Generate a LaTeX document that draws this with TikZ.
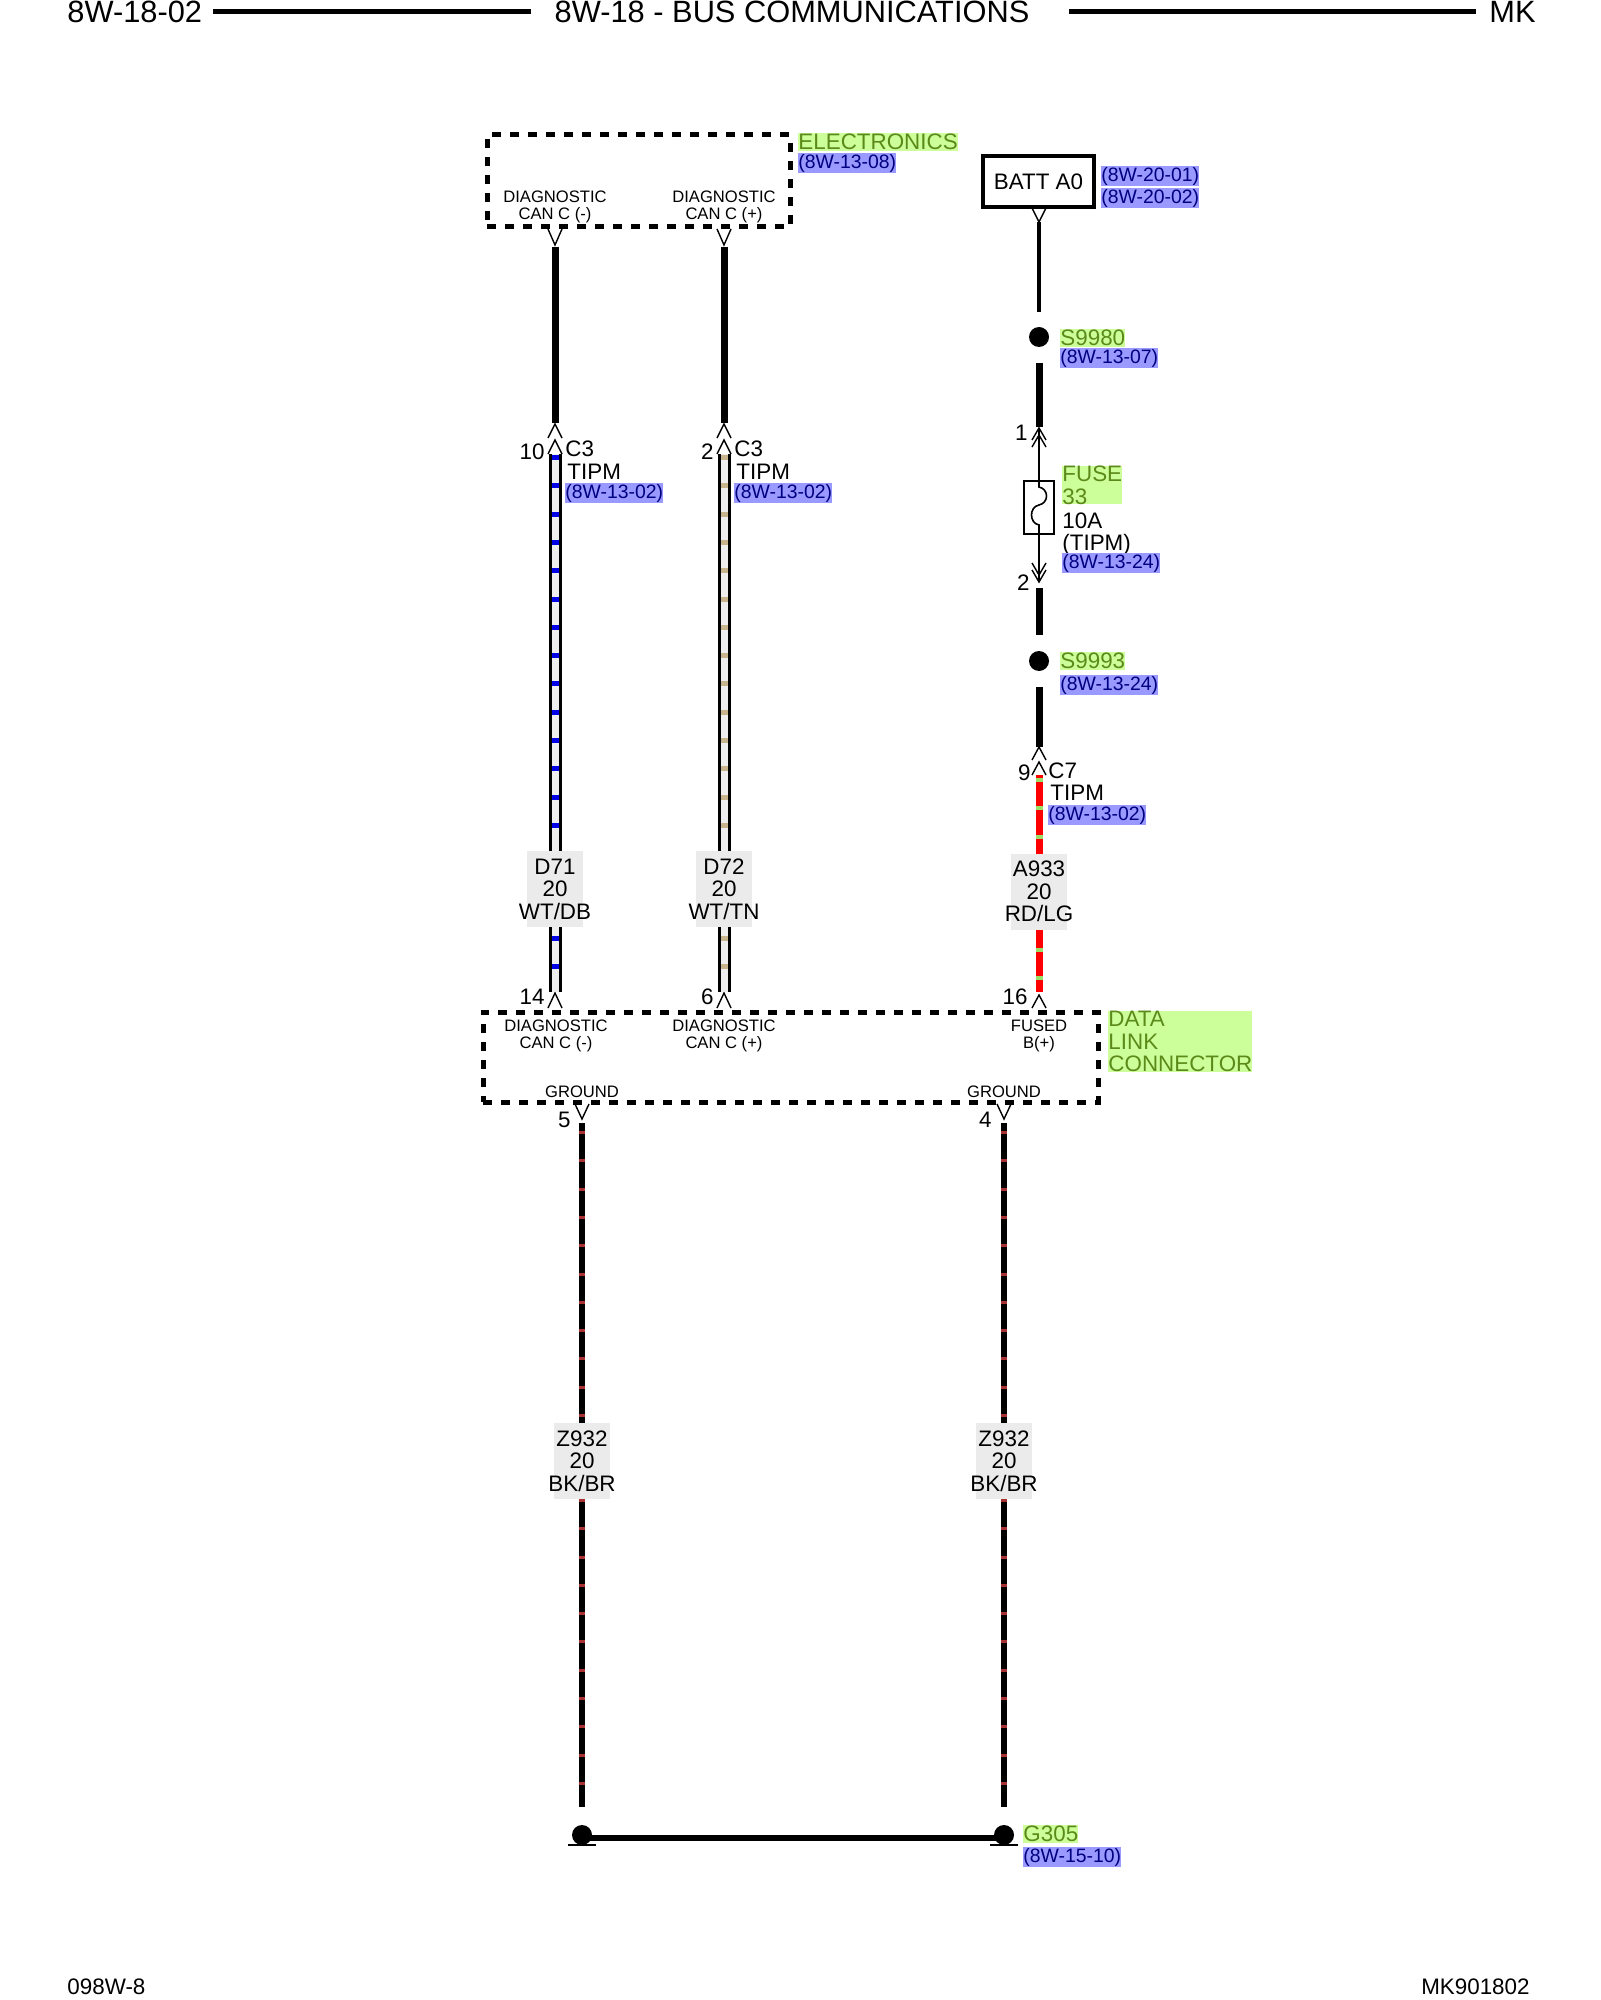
\documentclass[tikz,border=0pt]{standalone}
\usepackage{fontspec}
\setmainfont{Liberation Sans}
\usetikzlibrary{positioning}
\definecolor{grnbg}{HTML}{CCFF99}
\definecolor{grntxt}{HTML}{5C8A1A}
\definecolor{refbg}{HTML}{9999FF}
\definecolor{reftxt}{HTML}{000080}
\definecolor{lblbg}{HTML}{EBEBEB}
\definecolor{wtcore}{HTML}{EEEEEE}
\definecolor{dbblue}{HTML}{0000E6}
\definecolor{tntan}{HTML}{C8B48C}
\definecolor{lggreen}{HTML}{99E066}
\definecolor{brred}{HTML}{A83232}
\tikzset{
  hdr/.style={font=\fontsize{15.4}{16}\selectfont, inner sep=0pt},
  txt/.style={font=\fontsize{11.2}{11.3}\selectfont, inner sep=0pt},
  smalltxt/.style={font=\fontsize{8.3}{8.5}\selectfont, inner sep=0pt, align=center},
  refbox/.style={font=\fontsize{9.7}{10}\selectfont, fill=refbg, text=reftxt, inner sep=0pt, text height=7.6pt, text depth=2.2pt, anchor=west},
  grnbox/.style={txt, fill=grnbg, text=grntxt, anchor=west, align=left},
  grntag/.style={grnbox, text height=8.3pt, text depth=0.7pt},
  lblbox/.style={fill=lblbg, minimum width=28pt, minimum height=38pt, inner sep=0pt},
  wirelbl/.style={txt, align=center},
  dashbox/.style={draw, line width=2.5pt, dash pattern=on 4.3pt off 4.7pt, inner sep=0pt},
  pinline/.style={line width=0.7pt},
  apin/.pic={\draw[pinline] (-7,#1) -- (0,0) -- (7,#1);},
  vpin/.pic={\draw[pinline] (-7,0) -- (0,#1) -- (7,0);},
  splice/.style={circle, fill=black, inner sep=0pt, minimum size=10pt},
  blkwire/.style={line width=3.5pt},
  thinwire/.style={line width=2pt},
  fuseline/.style={line width=0.8pt}
}
\begin{document}
\begin{tikzpicture}[x=0.5pt, y=-0.5pt]
  \useasboundingbox (0,0) rectangle (1600,2000);
  % page header
  \node[hdr, anchor=west] (pageid) at (67,12) {8W-18-02};
  \node[hdr] (pagetitle) at (792,12) {8W-18 - BUS COMMUNICATIONS};
  \node[hdr, anchor=east] (model) at (1536,12) {MK};
  \draw[line width=2.5pt] (213,12) -- (531,12);
  \draw[line width=2.5pt] (1069,12) -- (1476,12);

  % electronics module
  \node[dashbox, minimum width=151.5pt, minimum height=46pt] (elec) at (638.5,181) {};
  \node[grntag] (elecname) at (798,142) {ELECTRONICS};
  \node[refbox] (elecref) at (798,163) {(8W-13-08)};
  \node[smalltxt] (elecneg) at (555,207) {DIAGNOSTIC\\CAN C (-)};
  \node[smalltxt] (elecpos) at (724,207) {DIAGNOSTIC\\CAN C (+)};
  \pic at (555,229) {vpin=16};
  \pic at (724,229) {vpin=16};

  % can c wires down to tipm c3
  \coordinate (d71top) at (555,247);
  \coordinate (d71c3) at (555,423);
  \coordinate (d72top) at (724,247);
  \coordinate (d72c3) at (724,423);
  \draw[blkwire] (d71top) -- (d71c3);
  \draw[blkwire] (d72top) -- (d72c3);
  \foreach \x in {555,724} {
    \pic at (\x,424) {apin=14};
    \pic at (\x,440) {apin=14};
    \pic at (\x,993) {apin=15};
  }
  \coordinate (d71a) at (555,454);
  \coordinate (d71b) at (555,992);
  \coordinate (d72a) at (724,454);
  \coordinate (d72b) at (724,992);
  \foreach \w/\tr in {d71/dbblue, d72/tntan} {
    \draw[line width=6.5pt] (\w a) -- (\w b);
    \draw[line width=3.5pt, wtcore] (\w a) -- (\w b);
    \draw[line width=3.5pt, \tr, dash pattern=on 2.5pt off 11.65pt, dash phase=-0.5pt] (\w a) -- (\w b);
  }
  \node[txt, anchor=east] (pin10) at (545,452) {10};
  \node[txt, anchor=west] (c3neg) at (565,449) {C3};
  \node[txt, anchor=west] (c3negtipm) at (567,472) {TIPM};
  \node[refbox] (c3negref) at (565,493) {(8W-13-02)};
  \node[txt, anchor=east] (pin2) at (714,452) {2};
  \node[txt, anchor=west] (c3pos) at (734,449) {C3};
  \node[txt, anchor=west] (c3postipm) at (736,472) {TIPM};
  \node[refbox] (c3posref) at (734,493) {(8W-13-02)};
  \node[lblbox] (d71box) at (555,889) {};
  \node[wirelbl] (d71lbl) at (d71box) {D71\\20\\WT/DB};
  \node[lblbox] (d72box) at (724,889) {};
  \node[wirelbl] (d72lbl) at (d72box) {D72\\20\\WT/TN};
  \node[txt, anchor=east] (pin14) at (545,997) {14};
  \node[txt, anchor=east] (pin6) at (714,997) {6};

  % battery feed through fuse 33
  \node[draw, line width=1.6pt, minimum width=55.5pt, minimum height=25.5pt, txt] (batt) at (1038.5,181.5) {BATT A0};
  \node[refbox] (battrefa) at (1101,176) {(8W-20-01)};
  \node[refbox] (battrefb) at (1101,198) {(8W-20-02)};
  \pic at (1039,208) {vpin=14};
  \coordinate (battpin) at (1039,222);
  \coordinate (s9980in) at (1039,312);
  \draw[thinwire] (battpin) -- (s9980in);
  \node[splice] (s9980) at (1039,337) {};
  \node[grntag] (s9980name) at (1060,338) {S9980};
  \node[refbox] (s9980ref) at (1060,358) {(8W-13-07)};
  \coordinate (s9980out) at (1039,363);
  \coordinate (fusetop) at (1039,427);
  \draw[blkwire] (s9980out) -- (fusetop);
  \pic at (1039,428) {apin=12};
  \pic at (1039,435) {apin=12};
  \node[txt, anchor=east] (pin1) at (1028,433) {1};
  \node[draw, line width=0.7pt, minimum width=15pt, minimum height=26.5pt, inner sep=0pt] (fuse33) at (1039,507.5) {};
  \coordinate (fusein) at (1039,428);
  \coordinate (fuseout) at (1039,582);
  \draw[fuseline] (fusein) -- (1039,487) .. controls (1049,489) and (1049,503) .. (1039,505)
    .. controls (1029,507) and (1029,523) .. (1039,525) -- (fuseout);
  \pic at (1039,563) {vpin=12};
  \pic at (1039,570) {vpin=12};
  \node[txt, anchor=east] (pin2f) at (1030,583) {2};
  \node[grnbox] (fusename) at (1062,485) {FUSE\\33};
  \node[txt, anchor=north west, align=left] (fusedata) at (1062,512) {10A\\(TIPM)};
  \node[refbox] (fuseref) at (1062,563) {(8W-13-24)};
  \coordinate (fusebot) at (1039,588);
  \coordinate (s9993in) at (1039,635);
  \draw[blkwire] (fusebot) -- (s9993in);
  \node[splice] (s9993) at (1039,661) {};
  \node[grntag] (s9993name) at (1060,661) {S9993};
  \node[refbox] (s9993ref) at (1060,685) {(8W-13-24)};
  \coordinate (s9993out) at (1039,687);
  \coordinate (c7top) at (1039,747);
  \draw[blkwire] (s9993out) -- (c7top);
  \pic at (1039,747) {apin=13};
  \pic at (1039,762) {apin=13};
  \node[txt, anchor=east] (pin9) at (1031,773) {9};
  \node[txt, anchor=west] (c7) at (1048,771) {C7};
  \node[txt, anchor=west] (c7tipm) at (1050,793) {TIPM};
  \node[refbox] (c7ref) at (1048,815) {(8W-13-02)};
  \coordinate (a933a) at (1039,775);
  \coordinate (a933b) at (1039,992);
  \draw[line width=3.5pt, red] (a933a) -- (a933b);
  \draw[line width=3.5pt, lggreen, dash pattern=on 2pt off 12.15pt, dash phase=-1.5pt] (a933a) -- (a933b);
  \node[lblbox] (a933box) at (1039,891.5) {};
  \node[wirelbl] (a933lbl) at (a933box) {A933\\20\\RD/LG};
  \pic at (1039,995) {apin=13};
  \node[txt, anchor=east] (pin16) at (1028,997) {16};

  % data link connector
  \node[dashbox, minimum width=307.5pt, minimum height=45pt] (dlc) at (790.5,1057) {};
  \node[smalltxt] (dlcneg) at (556,1036) {DIAGNOSTIC\\CAN C (-)};
  \node[smalltxt] (dlcpos) at (724,1036) {DIAGNOSTIC\\CAN C (+)};
  \node[smalltxt] (dlcbatt) at (1039,1036) {FUSED\\B(+)};
  \node[smalltxt] (dlcgnda) at (582,1092) {GROUND};
  \node[smalltxt] (dlcgndb) at (1004,1092) {GROUND};
  \node[grnbox] (dlcname) at (1108,1041.5) {DATA\\LINK\\CONNECTOR};
  \pic at (582,1104) {vpin=15};
  \pic at (1004,1104) {vpin=15};
  \node[txt, anchor=east] (pin5) at (571,1120) {5};
  \node[txt, anchor=east] (pin4) at (992,1120) {4};

  % grounds to g305
  \coordinate (z932la) at (582,1123);
  \coordinate (z932lb) at (582,1807);
  \coordinate (z932ra) at (1004,1123);
  \coordinate (z932rb) at (1004,1807);
  \foreach \w in {z932l, z932r} {
    \draw[line width=3pt] (\w a) -- (\w b);
    \draw[line width=3pt, brred, dash pattern=on 1.5pt off 12.65pt, dash phase=-4pt] (\w a) -- (\w b);
  }
  \node[lblbox] (z932lbox) at (582,1461) {};
  \node[wirelbl] (z932llbl) at (z932lbox) {Z932\\20\\BK/BR};
  \node[lblbox] (z932rbox) at (1004,1461) {};
  \node[wirelbl] (z932rlbl) at (z932rbox) {Z932\\20\\BK/BR};
  \node[splice] (g305a) at (582,1835) {};
  \node[splice] (g305b) at (1004,1835) {};
  \draw[line width=3pt] ([yshift=-1.5pt]g305a.center) -- ([yshift=-1.5pt]g305b.center);
  \draw[line width=1pt] ([xshift=-7pt]g305a.south) -- ([xshift=7pt]g305a.south);
  \draw[line width=1pt] ([xshift=-7pt]g305b.south) -- ([xshift=7pt]g305b.south);
  \node[grntag] (g305name) at (1023,1834) {G305};
  \node[refbox] (g305ref) at (1023,1857) {(8W-15-10)};

  % page footer
  \node[txt, anchor=west] (docid) at (67,1987) {098W-8};
  \node[txt, anchor=east] (figid) at (1530,1987) {MK901802};
\end{tikzpicture}
\end{document}
